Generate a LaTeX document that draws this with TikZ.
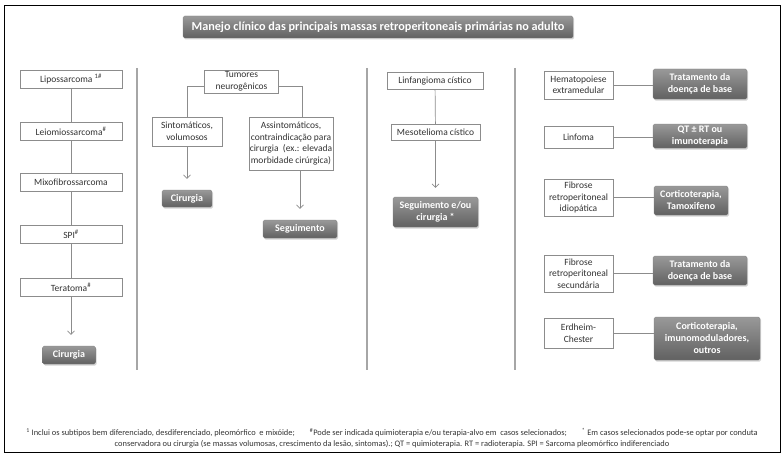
\documentclass[tikz,border=0pt]{standalone}
\usepackage{fontspec}
\setmainfont{Carlito}
\usetikzlibrary{arrows.meta,shadows}
\definecolor{linegray}{HTML}{8C8C8C}
\definecolor{sepgray}{HTML}{A6A6A6}
\definecolor{txtgray}{HTML}{333333}
\tikzset{
  wbox/.style={draw=black!45, fill=white, line width=0.6pt, inner sep=1pt, align=center,
    font=\fontsize{9.5}{11.5}\selectfont, text=txtgray},
  gbox/.style={rounded corners=1.5pt, top color=black!40, bottom color=black!62, draw=black!50,
    line width=0.3pt, text=white, inner sep=1pt, align=center,
    font=\bfseries\fontsize{10}{12}\selectfont,
    drop shadow={shadow xshift=1.2pt, shadow yshift=-1.5pt, opacity=.35}},
  conn/.style={draw=linegray, line width=0.7pt},
  arr/.style={conn, -{Straight Barb[length=3.5pt,width=7pt]}, shorten >=11pt},
  sep/.style={draw=sepgray, line width=1.4pt}
}
\begin{document}
\begin{tikzpicture}[x=1pt,y=-1pt]
\useasboundingbox (0,0) rectangle (782,460);
\draw[black, line width=0.9pt] (4,5) rectangle (780,452);

% title
\node[gbox, font=\bfseries\fontsize{12.2}{14}\selectfont, minimum width=390pt, minimum height=22pt] (title) at (378,27)
  {Manejo clínico das principais massas retroperitoneais primárias no adulto};

% separators
\draw[sep] (137,68) -- (137,370);
\draw[sep] (367,68) -- (367,370);
\draw[sep] (515,68) -- (515,370);

% column 1
\node[wbox, minimum width=102pt, minimum height=18pt] (lipo) at (71,79) {Lipossarcoma \textsuperscript{1\#}};
\node[wbox, minimum width=102pt, minimum height=18pt] (leio) at (71,131) {Leiomiossarcoma\textsuperscript{\#}};
\node[wbox, minimum width=102pt, minimum height=18pt] (mixo) at (71,182.5) {Mixofibrossarcoma};
\node[wbox, minimum width=102pt, minimum height=18pt] (spi) at (71,234.5) {SPI\textsuperscript{\#}};
\node[wbox, minimum width=102pt, minimum height=18pt] (tera) at (71,287) {Teratoma\textsuperscript{\#}};
\node[gbox, minimum width=53pt, minimum height=18pt] (cir1) at (69,355) {Cirurgia};
\draw[conn] (lipo) -- (leio);
\draw[conn] (leio) -- (mixo);
\draw[conn] (mixo) -- (spi);
\draw[conn] (spi) -- (tera);
\draw[arr] (tera) -- (tera |- cir1.north);

% column 2
\node[wbox, minimum width=74pt, minimum height=23pt] (tum) at (241.5,81.5) {Tumores\\neurogênicos};
\node[wbox, minimum width=70pt, minimum height=29pt] (sint) at (187,131.5) {Sintomáticos,\\volumosos};
\node[wbox, minimum width=82pt, minimum height=53pt] (assi) at (291,143.5)
  {Assintomáticos,\\contraindicação para\\cirurgia\ \ (ex.: elevada\\morbidade cirúrgica)};
\node[gbox, minimum width=50pt, minimum height=17pt] (cir2) at (187,198.5) {Cirurgia};
\node[gbox, minimum width=74pt, minimum height=18pt] (seg) at (300,229) {Seguimento};
\draw[conn] ([yshift=-4.5pt]tum.west) -| (sint.north);
\draw[conn] ([yshift=-4.5pt]tum.east) -| ([xshift=11pt]assi.north);
\draw[arr] (sint) -- (cir2);
\draw[arr] (assi.south -| seg) -- (seg);

% column 3
\node[wbox, minimum width=96pt, minimum height=17pt] (linf) at (435,81) {Linfangioma cístico};
\node[wbox, minimum width=89pt, minimum height=16pt] (meso) at (435.5,132.5) {Mesotelioma cístico};
\node[gbox, minimum width=85pt, minimum height=30pt] (seg2) at (435.5,212) {Seguimento e/ou\\cirurgia *};
\draw[conn] (linf) -- (meso);
\draw[arr, shorten >=9pt] (meso) -- (seg2);

% column 4
\node[wbox, minimum width=69pt, minimum height=28pt] (hem) at (578.5,85) {Hematopoiese\\extramedular};
\node[gbox, minimum width=94pt, minimum height=30pt] (trat1) at (700,84) {Tratamento da\\doença de base};
\node[wbox, minimum width=69pt, minimum height=22pt] (linfo) at (578.5,137) {Linfoma};
\node[gbox, minimum width=94pt, minimum height=24pt] (qt) at (700,136) {QT ± RT ou\\imunoterapia};
\node[wbox, minimum width=69pt, minimum height=37pt] (fib1) at (578.5,197.5) {Fibrose\\retroperitoneal\\idiopática};
\node[gbox, minimum width=74pt, minimum height=29pt] (cort1) at (691,200.5) {Corticoterapia,\\Tamoxifeno};
\node[wbox, minimum width=69pt, minimum height=37pt] (fib2) at (578.5,273.5) {Fibrose\\retroperitoneal\\secundária};
\node[gbox, minimum width=94pt, minimum height=29pt] (trat2) at (700,270.5) {Tratamento da\\doença de base};
\node[wbox, minimum width=69pt, minimum height=30pt] (erd) at (578.5,333) {Erdheim-\\Chester};
\node[gbox, minimum width=106pt, minimum height=43pt] (cort2) at (707,338.5) {Corticoterapia,\\imunomoduladores,\\outros};
\draw[conn] (hem.east) -- (hem.east -| trat1.west);
\draw[conn] (linfo.east) -- (linfo.east -| qt.west);
\draw[conn] (fib1.east) -- (fib1.east -| cort1.west);
\draw[conn] (fib2.east) -- (fib2.east -| trat2.west);
\draw[conn] (erd.east) -- (erd.east -| cort2.west);

% footnote
\node[font=\fontsize{8.4}{11}\selectfont, text=txtgray, align=center] (foot) at (392,438.5)
  {\textsuperscript{1} Inclui os subtipos bem diferenciado, desdiferenciado, pleomórfico\ \ e mixóide;\hspace{15pt}\textsuperscript{\#}Pode ser indicada quimioterapia e/ou terapia-alvo em\ \ casos selecionados;\hspace{15pt}\textsuperscript{*} Em casos selecionados pode-se optar por conduta\\
  conservadora ou cirurgia (se massas volumosas, crescimento da lesão, sintomas).; QT = quimioterapia. RT = radioterapia. SPI = Sarcoma pleomórfico indiferenciado};
\end{tikzpicture}
\end{document}
